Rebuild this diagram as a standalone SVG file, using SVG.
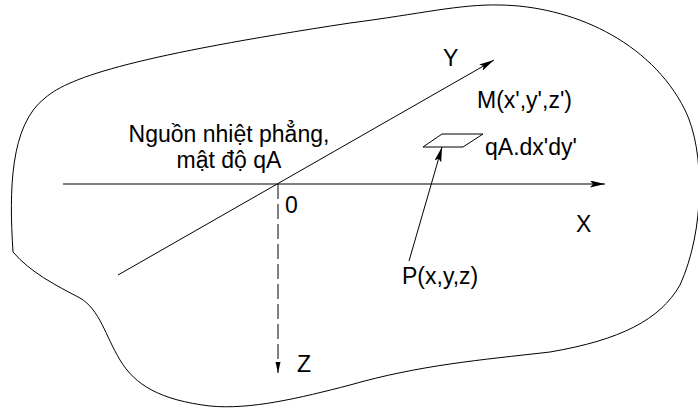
<svg xmlns="http://www.w3.org/2000/svg" width="698" height="408" viewBox="0 0 698 408">
<style>
.ln{fill:none;stroke:#000;stroke-width:1}
.t{font-family:"Liberation Sans",Arial,sans-serif;font-size:23px;fill:#000}
</style>
<defs>
<marker id="ah" markerUnits="userSpaceOnUse" markerWidth="16" markerHeight="8" refX="15" refY="3.5" orient="auto">
<path d="M0,0 L15,3.5 L0,7 L3,3.5 Z" fill="#000"/>
</marker>
<marker id="ahz" markerUnits="userSpaceOnUse" markerWidth="12" markerHeight="6" refX="11" refY="2.5" orient="auto">
<path d="M0,0 L11,2.5 L0,5 Z" fill="#000"/>
</marker>
</defs>
<rect width="698" height="408" fill="#fff"/>
<g id="region">
<path class="ln" d="M13 252 C9 190 10 125 45 98 C70 76 140 55 350 23 C420 14 460 4 500 5 C570 6 650 40 685 110 C705 150 705 230 680 285 C660 320 620 340 550 352 C480 360 420 365 350 385 C300 398 250 410 210 406 C160 400 135 385 120 360 C105 335 100 310 80 298 C55 285 30 272 13 252 Z"/>
</g>
<g id="connectors">
<line class="ln" x1="63" y1="184" x2="605" y2="184" marker-end="url(#ah)"/>
<line class="ln" x1="118" y1="275" x2="494" y2="60" marker-end="url(#ah)"/>
<line class="ln" x1="278" y1="184" x2="278" y2="373" stroke-dasharray="15,5" marker-end="url(#ahz)"/>
<line class="ln" x1="409" y1="261" x2="442" y2="147" marker-end="url(#ah)"/>
</g>
<g id="element">
<polygon class="ln" points="423,147 442,134 483,134 463,147"/>
</g>
<g id="labels">
<text class="t" x="229" y="142" text-anchor="middle">Nguồn nhiệt phẳng,</text>
<text class="t" x="229" y="168" text-anchor="middle">mật độ qA</text>
<text class="t" x="477" y="108">M(x',y',z')</text>
<text class="t" x="485" y="155">qA.dx'dy'</text>
<text class="t" x="443" y="66">Y</text>
<text class="t" x="576" y="232">X</text>
<text class="t" x="285" y="213">0</text>
<text class="t" x="297" y="372">Z</text>
<text class="t" x="402" y="284">P(x,y,z)</text>
</g>
</svg>
